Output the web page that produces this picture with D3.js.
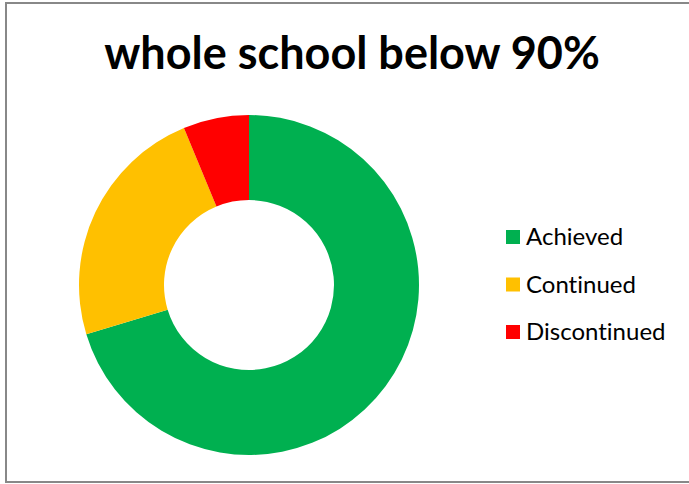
<!DOCTYPE html>
<html>
<head>
<meta charset="utf-8">
<script src="https://cdn.jsdelivr.net/npm/d3@7"></script>
<style>
  body { margin: 0; background: white; }
  text { font-family: Lato, "Open Sans", sans-serif; font-variant-ligatures: none; }
</style>
</head>
<body>
<div id="chart"></div>
<script>
let title = "whole school below 90%";
let categories = ["Achieved", "Continued", "Discontinued"];
let counts = [45, 15, 4];
let colors = ["#00b050", "#ffc000", "#ff0000"];

let width = 689, height = 484;

let svg = d3.select("#chart")
    .append("svg")
        .attr("width", width)
        .attr("height", height);

// chart frame (right edge runs off the page)
svg.append("rect")
    .attr("x", 6)
    .attr("y", 3)
    .attr("width", 720)
    .attr("height", 479)
    .attr("fill", "white")
    .attr("stroke", "#888888")
    .attr("stroke-width", 2);

svg.append("text")
    .attr("x", 352)
    .attr("y", 69)
    .attr("text-anchor", "middle")
    .style("font-size", "45px")
    .style("font-weight", "bold")
    .text(title);

let data = categories.map(function(c, i) { return {name: c, value: counts[i]}; });

let color = d3.scaleOrdinal()
    .domain(categories)
    .range(colors);

let pie = d3.pie()
    .sort(null)
    .value(function(d) { return d.value; });

let arc = d3.arc()
    .innerRadius(85)
    .outerRadius(170);

let g = svg.append("g")
    .attr("transform", "translate(249,285)");

g.selectAll("path")
    .data(pie(data))
    .enter()
    .append("path")
        .attr("d", arc)
        .attr("fill", function(d) { return color(d.data.name); });

let legend = svg.append("g")
    .attr("transform", "translate(506,0)");

let rowY = d3.scalePoint()
    .domain(categories)
    .range([237, 332]);

let item = legend.selectAll(".item")
    .data(categories)
    .enter()
    .append("g")
        .attr("class", "item")
        .attr("transform", function(d) { return "translate(0," + rowY(d) + ")"; });

item.append("rect")
    .attr("x", 0)
    .attr("y", -7)
    .attr("width", 14)
    .attr("height", 14)
    .attr("fill", function(d) { return color(d); });

item.append("text")
    .attr("x", 20)
    .attr("y", 8)
    .style("font-size", "24px")
    .attr("fill", "#000")
    .text(function(d) { return d; });
</script>
</body>
</html>
